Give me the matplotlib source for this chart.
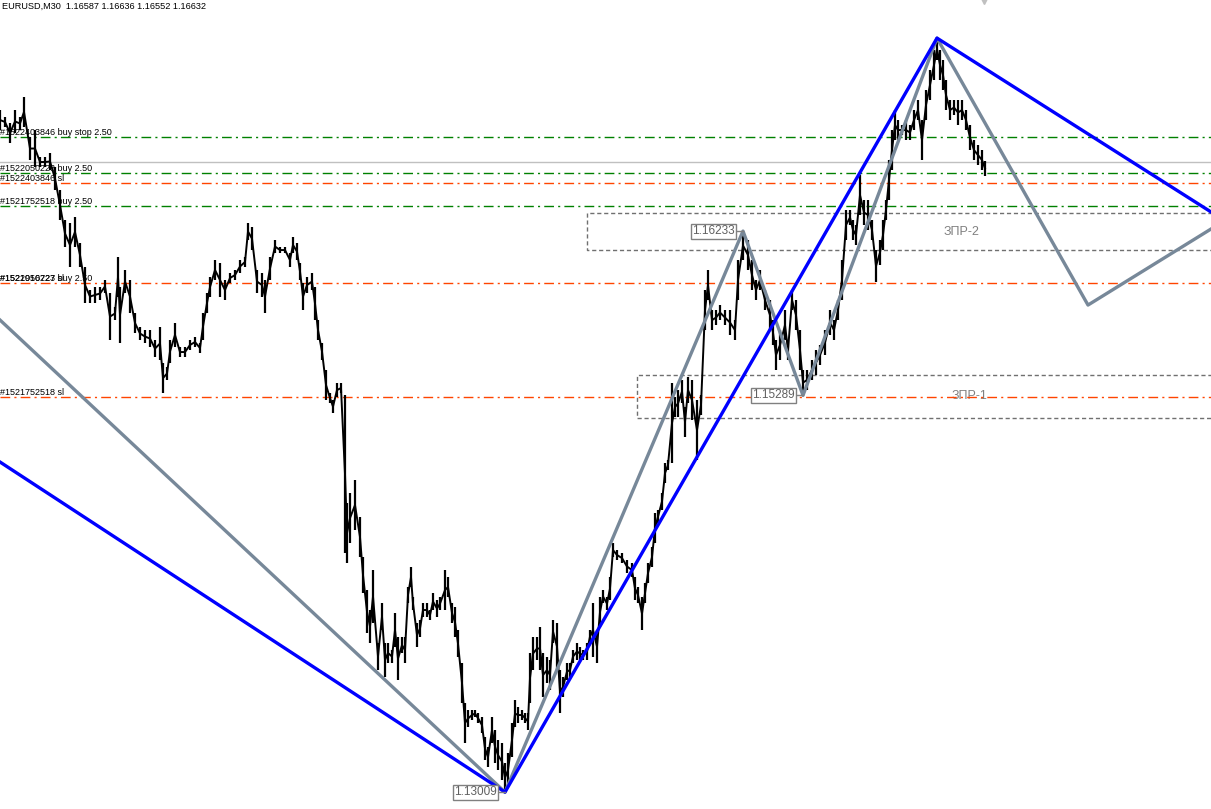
import numpy as np
import matplotlib
matplotlib.use('Agg')
import matplotlib.pyplot as plt

# bar number on the chart (left edge = 0) and bar high / low prices, EURUSD M30
bar = [0, 5, 10, 15, 20, 24, 30, 35, 40, 45, 50, 55, 60, 65, 70, 75, 80, 85, 90, 95,
       100, 105, 110, 115, 118, 120, 125, 130, 135, 140, 145, 150, 155, 160, 163, 167, 170, 175, 180, 185,
       190, 195, 200, 203, 207, 210, 215, 220, 225, 230, 235, 240, 245, 248, 252, 257, 262, 265, 270, 275,
       280, 285, 290, 293, 297, 300, 303, 307, 312, 315, 318, 322, 326, 330, 333, 337, 341, 345, 347, 350,
       355, 360, 363, 367, 370, 373, 378, 382, 385, 388, 392, 395, 398, 402, 405, 408, 411, 413, 417, 420,
       423, 427, 430, 433, 437, 440, 445, 448, 452, 455, 458, 462, 465, 468, 472, 475, 478, 482, 485, 488,
       492, 495, 498, 502, 505, 508, 512, 515, 518, 522, 525, 528, 530, 533, 537, 540, 543, 547, 550, 553,
       557, 560, 563, 567, 570, 573, 577, 580, 583, 587, 590, 593, 597, 600, 603, 607, 610, 613, 617, 622,
       627, 632, 635, 638, 642, 645, 648, 652, 655, 658, 662, 665, 668, 672, 675, 678, 682, 685, 688, 692,
       697, 701, 705, 708, 712, 716, 720, 725, 730, 735, 738, 743, 748, 752, 756, 760, 765, 770, 773, 776,
       780, 785, 788, 792, 796, 800, 803, 807, 812, 816, 820, 825, 830, 834, 838, 842, 846, 850, 853, 856,
       860, 864, 868, 872, 876, 880, 883, 886, 889, 892, 895, 898, 902, 906, 910, 914, 918, 922, 926, 930,
       934, 937, 940, 943, 946, 950, 954, 958, 962, 966, 970, 974, 978, 982, 985]

high = [1.16929, 1.16889, 1.16854, 1.16929, 1.16889, 1.17004, 1.16774, 1.16814, 1.16659, 1.16659,
        1.16682, 1.16601, 1.16469, 1.16297, 1.16279, 1.16314, 1.16164, 1.16027, 1.15894, 1.15912,
        1.15912, 1.15952, 1.15877, 1.15797, 1.16084, 1.15912, 1.16009, 1.15952, 1.15762, 1.15682,
        1.15664, 1.15664, 1.15607, 1.15682, 1.15475, 1.15452, 1.15607, 1.15705, 1.15567, 1.15567,
        1.15607, 1.15624, 1.15590, 1.15762, 1.15877, 1.15969, 1.16067, 1.16050, 1.15952, 1.15992,
        1.16009, 1.16067, 1.16084, 1.16279, 1.16256, 1.16009, 1.15992, 1.15952, 1.16084, 1.16182,
        1.16141, 1.16141, 1.16107, 1.16199, 1.16164, 1.16050, 1.15935, 1.15969, 1.15992, 1.15912,
        1.15722, 1.15590, 1.15435, 1.15302, 1.15262, 1.15360, 1.15360, 1.15291, 1.14670, 1.14728,
        1.14802, 1.14590, 1.14360, 1.14170, 1.14055, 1.14285, 1.13866, 1.14096, 1.13866, 1.13866,
        1.13825, 1.14038, 1.13900, 1.13900, 1.13900, 1.14188, 1.14302, 1.14130, 1.13981, 1.13998,
        1.14096, 1.14096, 1.14055, 1.14153, 1.14113, 1.14130, 1.14285, 1.14245, 1.14096, 1.14073,
        1.13940, 1.13751, 1.13521, 1.13481, 1.13481, 1.13481, 1.13463, 1.13440, 1.13325, 1.13268,
        1.13440, 1.13366, 1.13308, 1.13291, 1.13176, 1.13233, 1.13406, 1.13538, 1.13498, 1.13481,
        1.13463, 1.13463, 1.13808, 1.13900, 1.13900, 1.13958, 1.13808, 1.13785, 1.13768, 1.13998,
        1.13981, 1.13711, 1.13670, 1.13751, 1.13751, 1.13825, 1.13866, 1.13843, 1.13825, 1.13866,
        1.13940, 1.14096, 1.13940, 1.14130, 1.14170, 1.14130, 1.14245, 1.14440, 1.14400, 1.14383,
        1.14343, 1.14325, 1.14245, 1.14188, 1.14130, 1.14210, 1.14325, 1.14417, 1.14613, 1.14630,
        1.14728, 1.14900, 1.14917, 1.15360, 1.15279, 1.15320, 1.15377, 1.15222, 1.15394, 1.15377,
        1.15262, 1.15291, 1.15894, 1.16009, 1.15779, 1.15779, 1.15808, 1.15779, 1.15779, 1.15722,
        1.16067, 1.16233, 1.16182, 1.16067, 1.15952, 1.16009, 1.15894, 1.15837, 1.15722, 1.15607,
        1.15664, 1.15779, 1.15607, 1.15894, 1.15837, 1.15664, 1.15435, 1.15435, 1.15492, 1.15550,
        1.15578, 1.15664, 1.15779, 1.15722, 1.15837, 1.16067, 1.16354, 1.16354, 1.16297, 1.16268,
        1.16555, 1.16412, 1.16412, 1.16297, 1.16124, 1.16182, 1.16297, 1.16412, 1.16641, 1.16814,
        1.16929, 1.16871, 1.16843, 1.16871, 1.16843, 1.16929, 1.16986, 1.16871, 1.17044, 1.17159,
        1.17274, 1.17342, 1.17274, 1.17216, 1.17101, 1.16986, 1.16986, 1.16986, 1.16986, 1.16929,
        1.16843, 1.16756, 1.16728, 1.16699, 1.16636]

low = [1.16814, 1.16831, 1.16739, 1.16797, 1.16814, 1.16831, 1.16641, 1.16601, 1.16601, 1.16601,
       1.16584, 1.16469, 1.16297, 1.16141, 1.16027, 1.16141, 1.16027, 1.15820, 1.15820, 1.15820,
       1.15837, 1.15877, 1.15607, 1.15722, 1.15854, 1.15590, 1.15877, 1.15762, 1.15647, 1.15607,
       1.15590, 1.15567, 1.15509, 1.15492, 1.15302, 1.15377, 1.15475, 1.15567, 1.15509, 1.15509,
       1.15550, 1.15567, 1.15532, 1.15607, 1.15762, 1.15854, 1.15952, 1.15854, 1.15837, 1.15935,
       1.15952, 1.15992, 1.16027, 1.16182, 1.16124, 1.15877, 1.15854, 1.15762, 1.15952, 1.16107,
       1.16107, 1.16107, 1.16027, 1.16107, 1.16067, 1.15952, 1.15779, 1.15877, 1.15894, 1.15722,
       1.15607, 1.15492, 1.15262, 1.15245, 1.15187, 1.15279, 1.15302, 1.14383, 1.14325, 1.14440,
       1.14515, 1.14360, 1.14153, 1.13923, 1.13866, 1.13981, 1.13711, 1.13940, 1.13670, 1.13751,
       1.13751, 1.13843, 1.13653, 1.13808, 1.13751, 1.14096, 1.14188, 1.14055, 1.13843, 1.13900,
       1.14015, 1.14015, 1.13998, 1.14055, 1.14015, 1.14055, 1.14055, 1.14130, 1.13981, 1.13900,
       1.13785, 1.13521, 1.13291, 1.13383, 1.13423, 1.13440, 1.13406, 1.13348, 1.13193, 1.13153,
       1.13291, 1.13176, 1.13136, 1.13078, 1.13009, 1.13038, 1.13211, 1.13383, 1.13406, 1.13423,
       1.13406, 1.13366, 1.13521, 1.13711, 1.13768, 1.13711, 1.13555, 1.13636, 1.13596, 1.13866,
       1.13711, 1.13463, 1.13555, 1.13653, 1.13670, 1.13751, 1.13768, 1.13768, 1.13768, 1.13768,
       1.13866, 1.13785, 1.13751, 1.13958, 1.14096, 1.14055, 1.14113, 1.14360, 1.14343, 1.14325,
       1.14268, 1.14245, 1.14113, 1.14096, 1.13940, 1.14096, 1.14210, 1.14302, 1.14440, 1.14555,
       1.14630, 1.14785, 1.14860, 1.14900, 1.15165, 1.15165, 1.15245, 1.15050, 1.15245, 1.15147,
       1.14917, 1.15176, 1.15664, 1.15837, 1.15664, 1.15693, 1.15722, 1.15693, 1.15636, 1.15607,
       1.15837, 1.16067, 1.16009, 1.15894, 1.15837, 1.15894, 1.15779, 1.15664, 1.15578, 1.15435,
       1.15492, 1.15607, 1.15492, 1.15779, 1.15664, 1.15435, 1.15289, 1.15320, 1.15377, 1.15406,
       1.15463, 1.15521, 1.15636, 1.15607, 1.15722, 1.15837, 1.16182, 1.16268, 1.16182, 1.16153,
       1.16325, 1.16268, 1.16239, 1.16182, 1.15940, 1.16038, 1.16124, 1.16297, 1.16412, 1.16584,
       1.16756, 1.16756, 1.16785, 1.16756, 1.16756, 1.16814, 1.16871, 1.16641, 1.16871, 1.16986,
       1.17101, 1.17216, 1.17101, 1.17044, 1.16929, 1.16871, 1.16900, 1.16843, 1.16871, 1.16814,
       1.16699, 1.16641, 1.16613, 1.16584, 1.16552]

# zigzag (grey) and wave lines (blue): bar number, price
zz_bar = [0, 505, 743, 803, 937, 1088, 1211]
zz_price = [1.15722, 1.13009, 1.16233, 1.15289, 1.17342, 1.15808, 1.16245]
wave_bar = [0, 505, 937, 1211]
wave_price = [1.14906, 1.13009, 1.17342, 1.16343]

# pivot price labels
pivot_bar = [505, 743, 803]
pivot_price = [1.13009, 1.16233, 1.15289]

# order lines: price, label, colour
order_price = [1.16773, 1.16566, 1.16509, 1.16377, 1.15934, 1.15279]
order_label = ['#1522403846 buy stop 2.50', '#1522050223 buy 2.50', '#1522403846 sl',
               '#1521752518 buy 2.50', '#1521916727 buy 2.50', '#1521752518 sl']
order_kind = ['buy', 'buy', 'sl', 'buy', 'sl', 'sl']
bid = 1.16632

# zones: name, start bar, lower price, upper price
zone_name = ['ЗПР-2', 'ЗПР-1']
zone_start = [587, 637]
zone_low = [1.16124, 1.15159]
zone_high = [1.16337, 1.15406]
zone_label_bar = [962, 970]

title = 'EURUSD,M30  1.16587 1.16636 1.16552 1.16632'

plt.rcParams['font.family'] = ['Liberation Sans', 'DejaVu Sans']

fig = plt.figure(figsize=(12.11, 8.09), dpi=100)
ax = fig.add_axes([0, 0, 1, 1])
ax.set_xlim(0, 1211)
ax.set_ylim(1.12912, 1.17561)
ax.axis('off')

# zones
for name, x0, lo, hi, xl in zip(zone_name, zone_start, zone_low, zone_high, zone_label_bar):
    ax.plot([1300, x0, x0, 1300], [hi, hi, lo, lo], color='#707070', lw=1,
            dashes=(3, 2), zorder=1)
    ax.text(xl, (lo + hi) / 2, name, color='#808080', fontsize=9, ha='center',
            va='center', zorder=1)

# order lines
for p, lab, kind in zip(order_price, order_label, order_kind):
    col = '#008000' if kind == 'buy' else '#ff4500'
    ax.axhline(p, color=col, lw=1, dashes=(7, 3, 1.5, 3), zorder=2)
    ax.text(0, p + 0.00003, lab, fontsize=6.5, color='black', ha='left',
            va='bottom', zorder=5)
# second label drawn on top of the one above (as in the terminal)
ax.text(0, order_price[4] + 0.00003, '#1522050223 sl', fontsize=6.5, color='black',
        ha='left', va='bottom', zorder=5)
ax.axhline(bid, color='#c0c0c0', lw=1, zorder=2)

# price bars
b = np.array(bar)
h = np.array(high)
l = np.array(low)
ax.vlines(b, l, h, color='black', lw=1.6, zorder=3)
ax.plot(b, (h + l) / 2, color='black', lw=1.4, zorder=3)

# zigzag and waves
ax.plot(zz_bar, zz_price, color='#778899', lw=2.4, zorder=4)
ax.plot(wave_bar, wave_price, color='#0000ff', lw=2.4, zorder=4)

# pivot labels
for xb, p in zip(pivot_bar, pivot_price):
    ax.plot([xb - 6, xb], [p, p], color='#808080', lw=1, zorder=5)
    ax.text(xb - 8, p, '%.5f' % p, fontsize=8.5, color='#606060', ha='right',
            va='center', zorder=6,
            bbox=dict(boxstyle='square,pad=0.12', fc='white', ec='#808080', lw=1))

ax.text(2, 1.17561 - 0.00008, title, fontsize=6.6, color='black', ha='left', va='top')
ax.plot([984], [1.17561], marker='v', color='#c0c0c0', markersize=6, clip_on=False)

fig.savefig('out.png', dpi=100)
